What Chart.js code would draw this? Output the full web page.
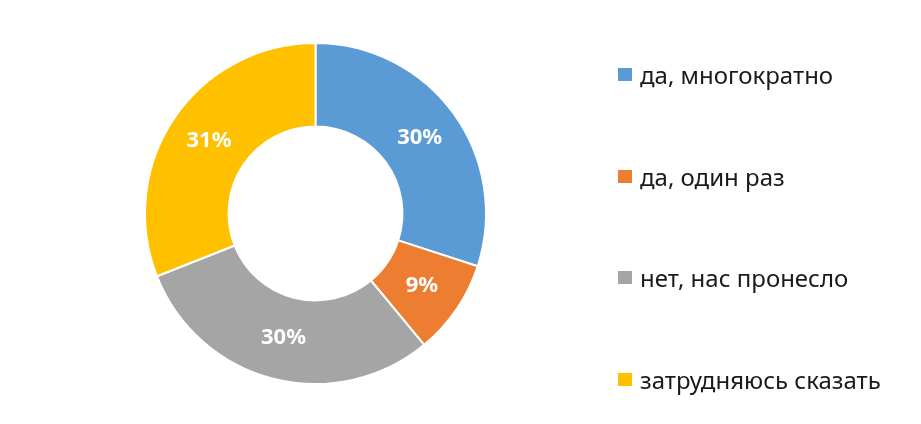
<!DOCTYPE html>
<html>
<head>
<meta charset="utf-8">
<script src="https://cdn.jsdelivr.net/npm/chart.js@4"></script>
<style>
  html, body { margin: 0; padding: 0; background: #fff; }
  #wrap { position: relative; width: 921px; height: 424px; }
  #legend { position: absolute; left: 618px; top: 0; font-family: "Noto Sans", sans-serif; font-size: 24px; color: #1a1a1a; }
  #legend .item { position: absolute; left: 0; white-space: nowrap; display: flex; align-items: center; }
  #legend .box { width: 14px; height: 13px; margin-right: 8px; }
</style>
</head>
<body>
<div id="wrap">
  <canvas id="pie" width="921" height="424"></canvas>
  <div id="legend"></div>
</div>
<script>
const labels = ['да, многократно', 'да, один раз', 'нет, нас пронесло', 'затрудняюсь сказать'];
const values = [30, 9, 30, 31];
const colors = ['#5B9BD5', '#ED7D31', '#A5A5A5', '#FFC000'];

// percent labels in the middle of each ring segment
const sliceLabels = {
    id: 'sliceLabels',
    afterDatasetsDraw(chart) {
        const ctx = chart.ctx;
        const meta = chart.getDatasetMeta(0);
        ctx.save();
        ctx.fillStyle = '#fff';
        ctx.font = 'bold 22px "Noto Sans", sans-serif';
        ctx.textAlign = 'center';
        ctx.textBaseline = 'middle';
        meta.data.forEach((arc, i) => {
            const p = arc.tooltipPosition();
            ctx.fillText(values[i] + '%', p.x, p.y);
        });
        ctx.restore();
    }
};

new Chart(document.getElementById('pie'), {
    type: 'doughnut',
    data: {
        labels: labels,
        datasets: [{
            data: values,
            backgroundColor: colors,
            borderColor: '#fff',
            borderWidth: 2
        }]
    },
    options: {
        responsive: false,
        animation: false,
        cutout: '51%',
        layout: { padding: { left: 144, right: 434, top: 42, bottom: 39 } },
        plugins: {
            legend: { display: false },
            tooltip: { enabled: false }
        }
    },
    plugins: [sliceLabels]
});

// legend on the right, spread out like the original
const legendTops = [75, 177, 278, 380];
const legend = document.getElementById('legend');
labels.forEach((l, i) => {
    const item = document.createElement('div');
    item.className = 'item';
    item.style.top = (legendTops[i] - 17) + 'px';
    item.innerHTML = '<span class="box" style="background:' + colors[i] + '"></span><span>' + l + '</span>';
    legend.appendChild(item);
});
</script>
</body>
</html>
